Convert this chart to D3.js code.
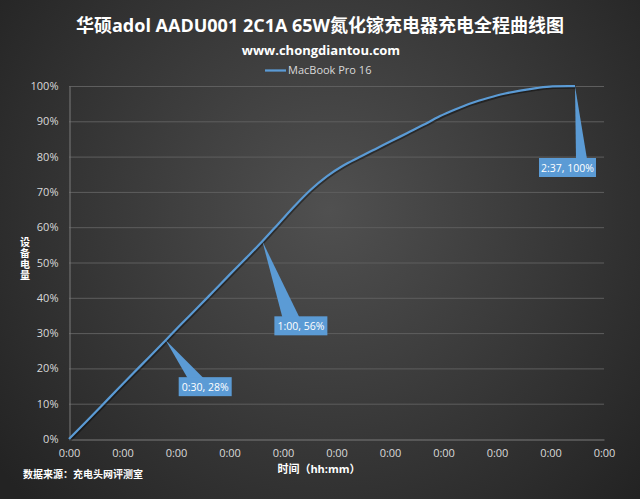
<!DOCTYPE html>
<html>
<head>
<meta charset="utf-8">
<script src="https://cdn.jsdelivr.net/npm/d3@7"></script>
<style>
  html, body { margin: 0; padding: 0; background: #2a2a2a; }
  svg { display: block; }
  #chart-area { position: relative; width: 640px; height: 499px; }
</style>
</head>
<body>
<div id="chart-area"></div>
<script>
// charging data: minutes since start, battery %
const minutes = [0, 5, 10, 15, 20, 25, 30, 35, 40, 45, 50, 55, 60, 65, 70, 75, 80, 85, 90, 95, 100, 105, 110, 115, 120, 125, 130, 135, 140, 145, 150, 155, 157];
const battery = [0, 4.6, 9.3, 14, 18.7, 23.3, 28, 32.7, 37.3, 42, 46.7, 51.3, 56, 61, 66, 70.6, 74.4, 77.4, 79.8, 82.1, 84.4, 86.7, 89, 91.4, 93.4, 95.2, 96.6, 97.8, 98.7, 99.4, 99.9, 100, 100];

const xTickValues = [0, 16.6, 33.2, 49.8, 66.4, 83, 99.6, 116.2, 132.8, 149.4, 166];
const xTickLabels = ["0:00", "0:00", "0:00", "0:00", "0:00", "0:00", "0:00", "0:00", "0:00", "0:00", "0:00"];
const yTickValues = [0, 10, 20, 30, 40, 50, 60, 70, 80, 90, 100];
const yTickLabels = ["0%", "10%", "20%", "30%", "40%", "50%", "60%", "70%", "80%", "90%", "100%"];

const calloutTimes = [30, 60, 157];
const calloutValues = [28, 56, 100];
const calloutLabels = ["0:30, 28%", "1:00, 56%", "2:37, 100%"];

const seriesName = "MacBook Pro 16";
const titleText = "华硕adol AADU001 2C1A 65W氮化镓充电器充电全程曲线图";
const subtitleText = "www.chongdiantou.com";
const yTitle = "设备电量";
const xTitle = "时间（hh:mm）";
const sourceText = "数据来源：充电头网评测室";

const width = 640, height = 499;
const plot = { left: 69, right: 604, top: 86, bottom: 439 };
const lineColor = "#5b9bd5";
const fontFam = "'Open Sans', 'Noto Sans CJK SC', sans-serif";

const svg = d3.select("#chart-area")
    .append("svg")
    .attr("width", width)
    .attr("height", height)
    .style("font-family", fontFam);

const defs = svg.append("defs");
const bg = defs.append("radialGradient")
    .attr("id", "bg")
    .attr("gradientUnits", "userSpaceOnUse")
    .attr("cx", 330).attr("cy", 210).attr("r", 420);
bg.append("stop").attr("offset", "0%").attr("stop-color", "#505050");
bg.append("stop").attr("offset", "100%").attr("stop-color", "#232323");

svg.append("rect")
    .attr("width", width)
    .attr("height", height)
    .attr("fill", "url(#bg)");

const x = d3.scaleLinear().domain([0, 166]).range([plot.left, plot.right]);
const y = d3.scaleLinear().domain([0, 100]).range([plot.bottom, plot.top]);

// gridlines
svg.append("g")
    .selectAll("line")
    .data(yTickValues.slice(1))
    .enter().append("line")
    .attr("x1", plot.left)
    .attr("x2", plot.right)
    .attr("y1", d => y(d) + 0.5)
    .attr("y2", d => y(d) + 0.5)
    .attr("stroke", "#5e5e5e")
    .attr("stroke-width", 1);

const yAxis = d3.axisLeft(y)
    .tickValues(yTickValues)
    .tickFormat((d, i) => yTickLabels[i])
    .tickSize(0)
    .tickPadding(11);

const yG = svg.append("g")
    .attr("transform", `translate(${plot.left + 0.5},0)`)
    .call(yAxis);
yG.select(".domain").attr("stroke", "#7a7a7a");
yG.selectAll("text")
    .attr("fill", "#d9d9d9")
    .attr("font-size", "11px")
    .style("font-family", fontFam);

const xAxis = d3.axisBottom(x)
    .tickValues(xTickValues)
    .tickFormat((d, i) => xTickLabels[i])
    .tickSize(0)
    .tickPadding(10);

const xG = svg.append("g")
    .attr("transform", `translate(0,${plot.bottom + 0.5})`)
    .call(xAxis);
xG.select(".domain").attr("stroke", "#7a7a7a");
xG.selectAll("text")
    .attr("fill", "#d9d9d9")
    .attr("font-size", "11px")
    .style("font-family", fontFam);

// series line
const line = d3.line()
    .x((d, i) => x(minutes[i]))
    .y(d => y(d))
    .curve(d3.curveMonotoneX);

svg.append("path")
    .datum(battery)
    .attr("d", line)
    .attr("fill", "none")
    .attr("stroke", "rgba(0,0,0,0.4)")
    .attr("stroke-width", 3)
    .attr("transform", "translate(0.8,1.2)");

svg.append("path")
    .datum(battery)
    .attr("d", line)
    .attr("fill", "none")
    .attr("stroke", lineColor)
    .attr("stroke-width", 2.25)
    .attr("stroke-linejoin", "round");

// callouts: box offset from point and wedge base on the box top
const calloutLayout = [
    { bx: 13, by: 37, bw: 53, bh: 19, w0: 22, w1: 38 },
    { bx: 12, by: 75, bw: 53, bh: 19, w0: 20, w1: 37 },
    { bx: -36, by: 72, bw: 57, bh: 19, w0: 1, w1: 12 }
];

const callouts = svg.append("g")
    .selectAll("g")
    .data(calloutLabels)
    .enter().append("g")
    .attr("transform", (d, i) => `translate(${x(calloutTimes[i])},${y(calloutValues[i])})`);

callouts.append("path")
    .attr("d", (d, i) => {
        const c = calloutLayout[i];
        return `M0,0L${c.w0},${c.by + 1}L${c.w1},${c.by + 1}Z`;
    })
    .attr("fill", lineColor);

callouts.append("rect")
    .attr("x", (d, i) => calloutLayout[i].bx)
    .attr("y", (d, i) => calloutLayout[i].by)
    .attr("width", (d, i) => calloutLayout[i].bw)
    .attr("height", (d, i) => calloutLayout[i].bh)
    .attr("fill", lineColor);

callouts.append("text")
    .attr("x", (d, i) => calloutLayout[i].bx + calloutLayout[i].bw / 2)
    .attr("y", (d, i) => calloutLayout[i].by + calloutLayout[i].bh / 2 + 4)
    .attr("text-anchor", "middle")
    .attr("fill", "#ffffff")
    .attr("font-size", "10.5px")
    .text(d => d);

// titles
svg.append("text")
    .attr("x", 320)
    .attr("y", 32)
    .attr("text-anchor", "middle")
    .attr("fill", "#ffffff")
    .attr("font-size", "18px")
    .attr("font-weight", "bold")
    .text(titleText);

svg.append("text")
    .attr("x", 321)
    .attr("y", 55)
    .attr("text-anchor", "middle")
    .attr("fill", "#ffffff")
    .attr("font-size", "13px")
    .attr("font-weight", "bold")
    .text(subtitleText);

// legend
svg.append("line")
    .attr("x1", 265).attr("x2", 286)
    .attr("y1", 70.5).attr("y2", 70.5)
    .attr("stroke", lineColor)
    .attr("stroke-width", 2.25);

svg.append("text")
    .attr("x", 288)
    .attr("y", 74)
    .attr("fill", "#d9d9d9")
    .attr("font-size", "11px")
    .text(seriesName);

// y title: one character per line, wrapped in a narrow html box
d3.select("#chart-area")
    .append("div")
    .style("position", "absolute")
    .style("left", "20px")
    .style("top", "236px")
    .style("width", "10px")
    .style("word-break", "break-all")
    .style("font-family", "'Noto Sans CJK SC', sans-serif")
    .style("font-size", "10px")
    .style("font-weight", "bold")
    .style("line-height", "11px")
    .style("color", "#ffffff")
    .text(yTitle);

svg.append("text")
    .attr("x", 319)
    .attr("y", 473)
    .attr("text-anchor", "middle")
    .attr("fill", "#ffffff")
    .attr("font-size", "11px")
    .attr("font-weight", "bold")
    .text(xTitle);

svg.append("text")
    .attr("x", 23)
    .attr("y", 478)
    .attr("fill", "#ffffff")
    .attr("font-size", "10px")
    .attr("font-weight", "bold")
    .text(sourceText);
</script>
</body>
</html>
